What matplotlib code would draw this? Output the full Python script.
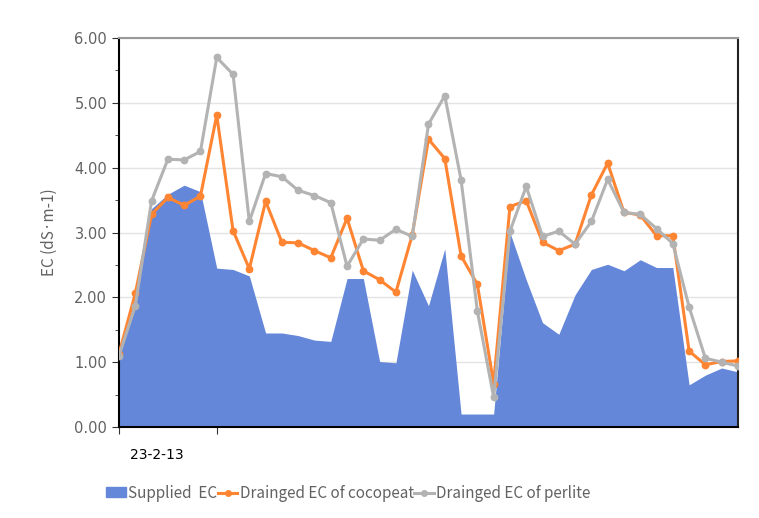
import matplotlib.pyplot as plt
from matplotlib.patches import Patch
from matplotlib.lines import Line2D

plt.rcParams['font.family'] = ['Noto Sans CJK KR', 'DejaVu Sans']

# supplied EC (area) and drained EC of each substrate
supplied = [1.10, 2.00, 3.37, 3.59, 3.73, 3.63, 2.45, 2.43, 2.33, 1.45,
            1.45, 1.41, 1.34, 1.32, 2.29, 2.29, 1.01, 0.99, 2.42, 1.87,
            2.75, 0.20, 0.20, 0.20, 3.00, 2.27, 1.61, 1.43, 2.04, 2.43,
            2.51, 2.41, 2.58, 2.46, 2.46, 0.65, 0.80, 0.91, 0.85]
cocopeat = [1.13, 2.06, 3.28, 3.54, 3.42, 3.56, 4.81, 3.03, 2.44, 3.48,
            2.85, 2.84, 2.72, 2.61, 3.22, 2.41, 2.27, 2.08, 2.96, 4.44,
            4.14, 2.64, 2.20, 0.67, 3.40, 3.49, 2.85, 2.72, 2.82, 3.58,
            4.07, 3.31, 3.27, 2.95, 2.95, 1.17, 0.96, 1.01, 1.02]
perlite = [1.10, 1.87, 3.49, 4.13, 4.12, 4.25, 5.70, 5.44, 3.17, 3.91,
           3.86, 3.65, 3.57, 3.46, 2.48, 2.90, 2.88, 3.05, 2.94, 4.67,
           5.11, 3.81, 1.79, 0.46, 3.02, 3.71, 2.94, 3.02, 2.82, 3.17,
           3.82, 3.31, 3.28, 3.06, 2.83, 1.85, 1.06, 1.00, 0.94]
x_ticks = [0, 6]
x_label_pos = [2.35]
x_labels = ['23-2-13']

blue = '#6587D9'
orange = '#FF8533'
gray = '#B3B3B3'
txt = '#626262'

fig = plt.figure(figsize=(7.59, 5.18), dpi=100)
ax = fig.add_axes([0.1568, 0.1757, 0.9723 - 0.1568, 0.9266 - 0.1757])

x = list(range(len(supplied)))
ax.fill_between(x, 0, supplied, color=blue, linewidth=0, zorder=2)
ax.plot(x, cocopeat, color=orange, lw=2.2, marker='o', ms=4.6, zorder=3)
ax.plot(x, perlite, color=gray, lw=2.2, marker='o', ms=4.6, zorder=4)

ax.set_xlim(0, len(supplied) - 1)
ax.set_ylim(0, 6)
ax.set_yticks([0, 1, 2, 3, 4, 5, 6])
ax.set_yticklabels(['%.2f' % v for v in range(7)])
ax.set_yticks([0.5, 1.5, 2.5, 3.5, 4.5, 5.5], minor=True)
ax.grid(axis='y', color='#E3E3E3', lw=1, zorder=0)
ax.set_axisbelow(True)

ax.set_xticks(x_ticks)
ax.set_xticklabels([''] * len(x_ticks))
ax.set_xticks(x_label_pos, minor=True)
ax.set_xticklabels(x_labels, minor=True)
ax.tick_params(axis='x', which='minor', length=0, pad=15)
ax.tick_params(axis='x', which='major', length=5, color='#333333')
ax.tick_params(axis='y', which='major', length=5, color='#333333')
ax.tick_params(axis='y', which='minor', length=3, color='#333333')
ax.tick_params(labelsize=10.5, labelcolor=txt)
for lab in ax.get_yticklabels() + ax.get_xticklabels(minor=True):
    lab.set_family('DejaVu Sans')

ax.spines['left'].set_color('black')
ax.spines['left'].set_linewidth(1.5)
ax.spines['bottom'].set_color('black')
ax.spines['bottom'].set_linewidth(1.5)
ax.spines['top'].set_color('#999999')
ax.spines['top'].set_linewidth(1.5)
ax.spines['right'].set_color('#222222')
ax.spines['right'].set_linewidth(1.5)

ax.set_ylabel('EC (dS·m-1)', fontsize=11, color=txt, labelpad=12)

handles = [Patch(color=blue),
           Line2D([], [], color=orange, lw=2.2, marker='o', ms=4),
           Line2D([], [], color=gray, lw=2.2, marker='o', ms=4)]
labels = ['Supplied  EC', 'Drainged EC of cocopeat', 'Drainged EC of perlite']
fig.legend(handles, labels, loc='center', bbox_to_anchor=(0.459, 0.048), ncol=3,
           frameon=False, fontsize=11, labelcolor=txt, handlelength=1.3,
           handletextpad=0.15, columnspacing=0.0, handleheight=0.6)

fig.savefig('out.png', dpi=100)
